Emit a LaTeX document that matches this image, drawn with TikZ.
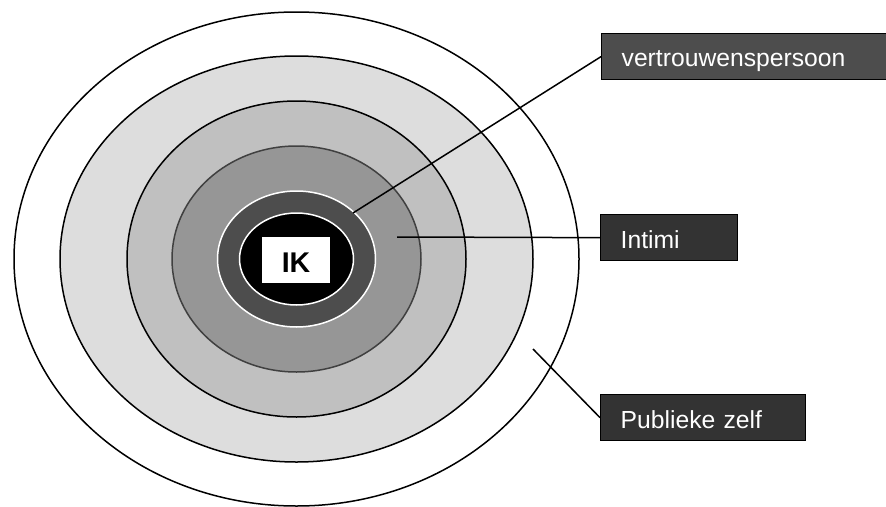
\documentclass[tikz,border=0pt]{standalone}
\usepackage{fontspec}
\setmainfont{Liberation Sans}
\definecolor{ringA}{HTML}{DDDDDD}
\definecolor{ringB}{HTML}{C0C0C0}
\definecolor{ringC}{HTML}{969696}
\definecolor{ringD}{HTML}{4D4D4D}
\definecolor{ringCline}{HTML}{404040}
\definecolor{boxdark}{HTML}{333333}
\definecolor{boxmid}{HTML}{4D4D4D}
\tikzset{
  ringline/.style={draw=black, line width=1.5pt},
  labelbox/.style={draw=black, line width=1.3pt, text=white, inner xsep=20pt, inner ysep=0pt,
    align=left, anchor=north west, font=\fontsize{24.7}{28}\selectfont},
  connector/.style={draw=black, line width=1.5pt},
}
\begin{document}
\begin{tikzpicture}[x=1pt,y=-1pt]
\useasboundingbox (0,0) rectangle (886,506);
\coordinate (c) at (296.5,259);
% rings
\path[ringline, fill=white] (c) ellipse [x radius=282.5, y radius=247];
\path[ringline, fill=ringA] (c) ellipse [x radius=236.5, y radius=203];
\path[ringline, fill=ringB] (c) ellipse [x radius=169.5, y radius=158];
\path[draw=ringCline, line width=1.5pt, fill=ringC] (c) ellipse [x radius=124.5, y radius=113];
\path[draw=white, line width=1.5pt, fill=ringD] (c) ellipse [x radius=79, y radius=68];
\path[draw=white, line width=1.5pt, fill=black] (c) ellipse [x radius=57, y radius=46];
% IK
\node[fill=white, inner sep=0pt, minimum width=68pt, text height=35.7pt, text depth=10.3pt,
  font=\fontsize{28.5}{30}\selectfont\bfseries, anchor=north] (ik) at (296,237) {IK};
% label boxes
\node[labelbox, fill=boxmid, text width=246pt, text height=33pt, text depth=13pt] (vp) at (601,33) {vertrouwenspersoon};
\node[labelbox, fill=boxdark, text width=97pt, text height=34pt, text depth=12pt] (in) at (600,214) {Intimi};
\node[labelbox, fill=boxdark, text width=165pt, text height=34pt, text depth=12pt] (pz) at (600,394) {Publieke zelf};
% connector ends
\coordinate (vpend) at (353,213);
\coordinate (inend) at (397,237);
\coordinate (pzend) at (533,349);
\draw[connector] (vpend) -- (vp.west);
\draw[connector] (inend) -- (in.west);
\draw[connector] (pzend) -- (pz.west);
\end{tikzpicture}
\end{document}
